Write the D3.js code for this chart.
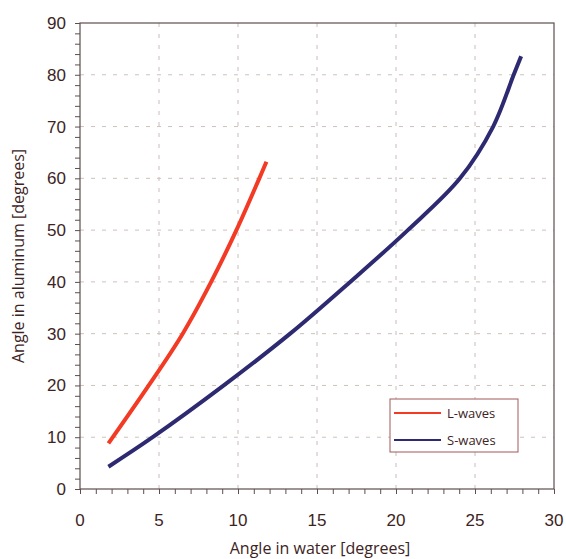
<!DOCTYPE html>
<html>
<head>
<meta charset="utf-8">
<script src="https://cdn.jsdelivr.net/npm/d3@7.9.0/dist/d3.min.js"></script>
<style>
  body { margin: 0; background: #fff; }
  svg { font-family: "Open Sans", "Noto Sans", sans-serif; }
</style>
</head>
<body>
<svg id="chart" width="566" height="559"></svg>
<script>
// refraction angles, water -> aluminum
const lWaves = [
  [1.8, 8.8], [4.35, 20], [6.5, 30], [8.3, 40], [9.9, 50], [11.35, 60], [11.8, 63.2]
];
const sWaves = [
  [1.8, 4.3], [4.6, 10], [9.1, 20], [13.3, 30], [17.1, 40], [20.75, 50],
  [24.05, 60], [26.15, 70], [27.45, 80], [27.92, 83.6]
];
const xTicks = [0, 5, 10, 15, 20, 25, 30];
const yTicks = [0, 10, 20, 30, 40, 50, 60, 70, 80, 90];
const series = [
  { name: 'L-waves', values: lWaves, color: '#f23a24' },
  { name: 'S-waves', values: sWaves, color: '#2e2a72' }
];

const svg = d3.select('#chart');
const margin = { top: 23, right: 12, bottom: 70, left: 80 };
const width = 566, height = 559;
const x = d3.scaleLinear().domain([0, 30]).range([margin.left, width - margin.right]);
const y = d3.scaleLinear().domain([0, 90]).range([height - margin.bottom, margin.top]);
const textColor = '#3d2424';
const axisColor = '#5e4e4e';

// dashed grid
svg.append('g')
  .selectAll('line')
  .data(xTicks.slice(1, -1))
  .join('line')
  .attr('x1', d => x(d)).attr('x2', d => x(d))
  .attr('y1', y(0)).attr('y2', y(90))
  .attr('stroke', '#cbbcbc').attr('stroke-dasharray', '4,7');
svg.append('g')
  .selectAll('line')
  .data(yTicks.slice(1, -1))
  .join('line')
  .attr('x1', x(0)).attr('x2', x(30))
  .attr('y1', d => y(d)).attr('y2', d => y(d))
  .attr('stroke', '#cdc2bc').attr('stroke-dasharray', '4,7');

// frame
svg.append('rect')
  .attr('x', x(0)).attr('y', y(90))
  .attr('width', x(30) - x(0)).attr('height', y(0) - y(90))
  .attr('fill', 'none').attr('stroke', axisColor).attr('stroke-width', 1.2);

// axes with minor ticks
const xAxis = svg.append('g').attr('transform', `translate(0,${y(0)})`);
xAxis.call(d3.axisBottom(x).tickValues(d3.range(0, 31, 1)).tickSize(5).tickFormat(''));
xAxis.call(g => g.select('.domain').remove());
xAxis.selectAll('line').attr('stroke', axisColor);
xAxis.append('g').selectAll('text')
  .data(xTicks)
  .join('text')
  .attr('x', d => x(d)).attr('y', 37)
  .attr('text-anchor', 'middle')
  .attr('fill', textColor).attr('font-size', 17)
  .text(d => d);

const yAxis = svg.append('g').attr('transform', `translate(${x(0)},0)`);
yAxis.call(d3.axisLeft(y).tickValues(d3.range(0, 91, 2)).tickSize(5).tickFormat(''));
yAxis.call(g => g.select('.domain').remove());
yAxis.selectAll('line').attr('stroke', axisColor);
yAxis.append('g').selectAll('text')
  .data(yTicks)
  .join('text')
  .attr('x', -14).attr('y', d => y(d))
  .attr('dy', '0.35em')
  .attr('text-anchor', 'end')
  .attr('fill', textColor).attr('font-size', 17)
  .text(d => d);

// axis titles
svg.append('text')
  .attr('x', (x(0) + x(30)) / 2 + 3).attr('y', 554)
  .attr('text-anchor', 'middle')
  .attr('fill', textColor).attr('font-size', 16)
  .text('Angle in water [degrees]');
svg.append('text')
  .attr('transform', `translate(24,${(y(0) + y(90)) / 2}) rotate(-90)`)
  .attr('text-anchor', 'middle')
  .attr('fill', textColor).attr('font-size', 16)
  .text('Angle in aluminum [degrees]');

// curves
const line = d3.line().x(d => x(d[0])).y(d => y(d[1])).curve(d3.curveCatmullRom.alpha(0.5));
svg.append('g')
  .selectAll('path')
  .data(series)
  .join('path')
  .attr('d', d => line(d.values))
  .attr('fill', 'none')
  .attr('stroke', d => d.color)
  .attr('stroke-width', 4)
  .attr('stroke-linecap', 'butt');

// legend
const legend = svg.append('g').attr('transform', 'translate(390,399)');
legend.append('rect')
  .attr('width', 128).attr('height', 53)
  .attr('fill', '#fff').attr('stroke', '#a05858').attr('stroke-width', 1);
const item = legend.selectAll('g.item')
  .data(series)
  .join('g')
  .attr('class', 'item')
  .attr('transform', (d, i) => `translate(0,${14 + i * 27})`);
item.append('line')
  .attr('x1', 4).attr('x2', 51)
  .attr('stroke', d => d.color).attr('stroke-width', 2);
item.append('text')
  .attr('x', 57).attr('dy', '0.35em')
  .attr('fill', textColor).attr('font-size', 13)
  .text(d => d.name);
</script>
</body>
</html>
